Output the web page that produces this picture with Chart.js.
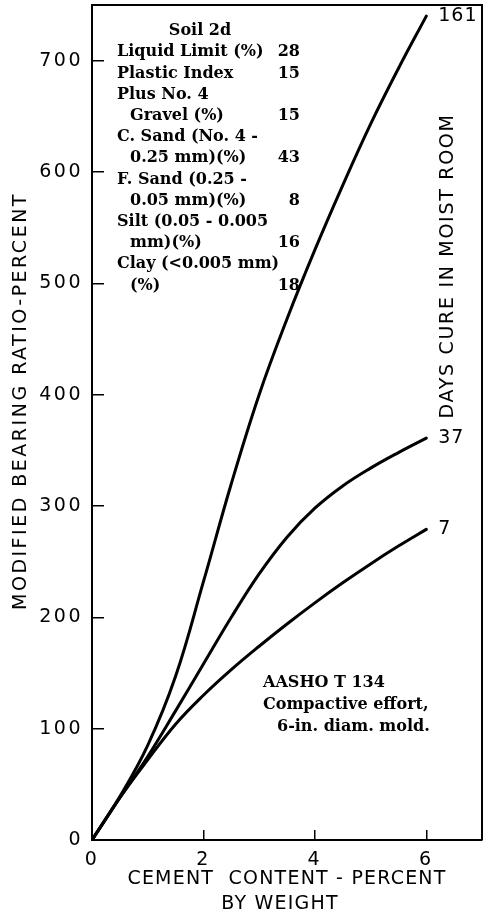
<!DOCTYPE html>
<html>
<head>
<meta charset="utf-8">
<script src="https://cdn.jsdelivr.net/npm/chart.js@4"></script>
<style>
    html, body { margin: 0; padding: 0; background: #fff; }
</style>
</head>
<body>
<canvas id="bearingChart" width="485" height="922"></canvas>
<script>
// cement content (% by weight) and modified bearing ratio (%) per curing time
var cementContent = [0, 0.5, 1, 1.5, 2, 2.5, 3, 3.5, 4, 4.5, 5, 5.5, 6];
var cure7Days = [0, 38, 72, 104, 130, 153, 174, 194, 213, 231, 248, 264, 279];
var cure37Days = [0, 38, 75, 116, 158, 200, 239, 272, 298, 318, 334, 348, 361];
var cure161Days = [0, 39, 85, 147, 232, 320, 400, 468, 530, 588, 643, 693, 740];
var curveLabels = ['7', '37', '161'];

var soilLines = [
    ['Soil 2d', ''],
    ['Liquid Limit (%)', '28'],
    ['Plastic Index', '15'],
    ['Plus No. 4', ''],
    ['  Gravel (%)', '15'],
    ['C. Sand (No. 4 -', ''],
    ['  0.25 mm)(%)', '43'],
    ['F. Sand (0.25 -', ''],
    ['  0.05 mm)(%)', '8'],
    ['Silt (0.05 - 0.005', ''],
    ['  mm)(%)', '16'],
    ['Clay (<0.005 mm)', ''],
    ['  (%)', '18']
];
var testNote = ['AASHO T 134', 'Compactive effort,', '  6-in. diam. mold.'];

function toPoints(ys) {
    return ys.map(function (y, i) { return { x: cementContent[i], y: y }; });
}

var sans = '"DejaVu Sans", sans-serif';
var serif = '"DejaVu Serif", serif';

var textPlugin = {
    id: 'textPlugin',
    beforeDraw: function (chart) {
        chart.ctx.letterSpacing = '2.5px';
    },
    afterDraw: function (chart) {
        var ctx = chart.ctx;
        var area = chart.chartArea;
        ctx.save();
        ctx.letterSpacing = '0px';

        // top and right frame
        ctx.strokeStyle = '#000';
        ctx.lineWidth = 2;
        ctx.beginPath();
        ctx.moveTo(area.left, area.top);
        ctx.lineTo(area.right, area.top);
        ctx.lineTo(area.right, area.bottom);
        ctx.stroke();

        ctx.fillStyle = '#000';
        ctx.textBaseline = 'middle';

        // curve labels
        ctx.font = '19px ' + sans;
        ctx.letterSpacing = '1px';
        ctx.textAlign = 'left';
        chart.data.datasets.forEach(function (ds, i) {
            var pts = chart.getDatasetMeta(i).data;
            var last = pts[pts.length - 1];
            ctx.fillText(curveLabels[i], last.x + 12, last.y);
        });

        // axis titles
        ctx.textAlign = 'center';
        ctx.letterSpacing = '2.5px';
        ctx.save();
        ctx.translate(21, 401);
        ctx.rotate(-Math.PI / 2);
        ctx.fillText('MODIFIED BEARING RATIO-PERCENT', 0, 0);
        ctx.restore();

        ctx.letterSpacing = '1.7px';
        ctx.save();
        ctx.translate(448, 266);
        ctx.rotate(-Math.PI / 2);
        ctx.fillText('DAYS CURE IN MOIST ROOM', 0, 0);
        ctx.restore();

        ctx.letterSpacing = '1.2px';
        ctx.fillText('CEMENT  CONTENT - PERCENT', 287, 879);
        ctx.fillText('BY WEIGHT', 280, 904);

        // soil data block
        ctx.font = 'bold 16px ' + serif;
        ctx.letterSpacing = '0px';
        soilLines.forEach(function (row, i) {
            var y = 31 + i * 21.2;
            if (i === 0) {
                ctx.textAlign = 'center';
                ctx.fillText(row[0], 200, y);
                return;
            }
            ctx.textAlign = 'left';
            var indent = row[0].indexOf('  ') === 0;
            ctx.fillText(row[0].trim(), indent ? 130 : 117, y);
            if (row[1]) {
                ctx.textAlign = 'right';
                ctx.fillText(row[1], 300, y);
            }
        });

        ctx.textAlign = 'left';
        testNote.forEach(function (line, i) {
            var indent = line.indexOf('  ') === 0;
            ctx.fillText(line.trim(), indent ? 277 : 263, 683 + i * 22);
        });

        ctx.restore();
    }
};

var lineStyle = {
    borderColor: '#000',
    borderWidth: 3,
    pointRadius: 0,
    fill: false,
    tension: 0.4,
    borderCapStyle: 'round',
    borderJoinStyle: 'round'
};

var ctx = document.getElementById('bearingChart').getContext('2d');
var bearingChart = new Chart(ctx, {
    type: 'line',
    data: {
        datasets: [
            Object.assign({ label: '7 days', data: toPoints(cure7Days) }, lineStyle),
            Object.assign({ label: '37 days', data: toPoints(cure37Days) }, lineStyle),
            Object.assign({ label: '161 days', data: toPoints(cure161Days) }, lineStyle)
        ]
    },
    options: {
        responsive: false,
        animation: false,
        layout: { padding: { top: 5, right: 3, left: 0, bottom: 0 } },
        plugins: {
            legend: { display: false },
            tooltip: { enabled: false }
        },
        scales: {
            x: {
                type: 'linear',
                min: 0,
                max: 7,
                afterBuildTicks: function (s) {
                    s.ticks = s.ticks.filter(function (t) { return t.value <= 6; });
                },
                afterFit: function (s) {
                    s.height = 82;
                    s.paddingLeft = 0;
                    s.paddingRight = 0;
                },
                ticks: {
                    stepSize: 2,
                    color: '#000',
                    padding: 19,
                    maxRotation: 0,
                    font: { family: sans, size: 19 }
                },
                grid: {
                    drawOnChartArea: false,
                    drawTicks: true,
                    tickLength: -10,
                    color: '#000',
                    lineWidth: 1.5
                },
                border: { display: true, color: '#000', width: 2 }
            },
            y: {
                min: 0,
                max: 750,
                afterBuildTicks: function (s) {
                    s.ticks = s.ticks.filter(function (t) { return t.value <= 700; });
                },
                afterFit: function (s) {
                    s.width = 92;
                    s.paddingTop = 0;
                    s.paddingBottom = 0;
                },
                ticks: {
                    stepSize: 100,
                    color: '#000',
                    padding: 21,
                    font: { family: sans, size: 19 }
                },
                grid: {
                    drawOnChartArea: false,
                    drawTicks: true,
                    tickLength: -12,
                    color: '#000',
                    lineWidth: 1.5
                },
                border: { display: true, color: '#000', width: 2 }
            }
        }
    },
    plugins: [textPlugin]
});
</script>
</body>
</html>
